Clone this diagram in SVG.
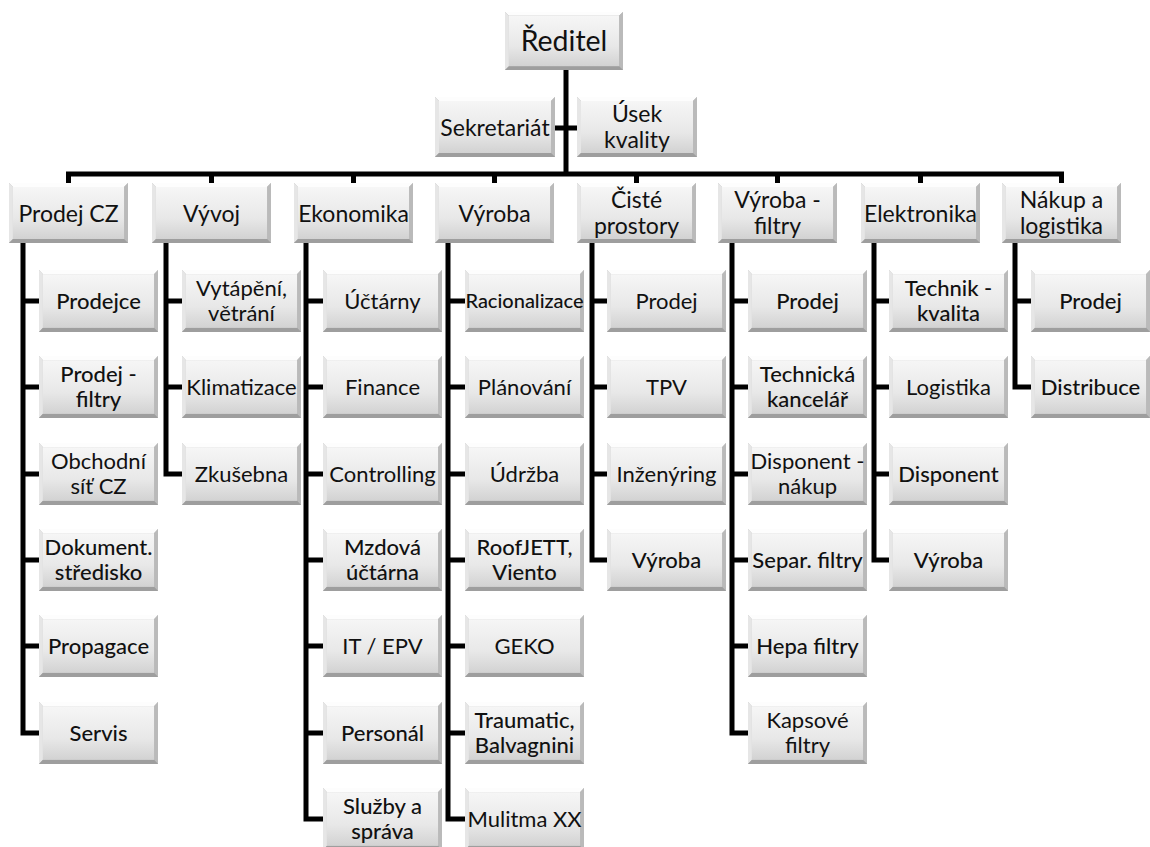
<svg xmlns="http://www.w3.org/2000/svg" xmlns:xlink="http://www.w3.org/1999/xlink" width="1150" height="847" viewBox="0 0 1150 847">
<style>
.t{font-family:Lato,"Liberation Sans",sans-serif;fill:#111;text-anchor:middle}
.top{font-size:23px}
.ch{font-size:22px}
.b{font-weight:500}
.cn{fill:none;stroke:#000;stroke-width:5;stroke-linejoin:miter}
</style>
<defs>
<linearGradient id="gb" x1="0" y1="0" x2="0" y2="1">
<stop offset="0" stop-color="#f6f6f6"/>
<stop offset="0.6" stop-color="#e8e8e8"/>
<stop offset="1" stop-color="#d2d2d2"/>
</linearGradient>
<symbol id="box" viewBox="0 0 120 60" preserveAspectRatio="none">
<rect width="120" height="60" fill="#b0b0b0"/>
<polygon points="0,0 120,0 116,4 4,4" fill="#fdfdfd"/>
<polygon points="0,0 4,4 4,56 0,60" fill="#e6e6e6"/>
<polygon points="120,0 120,60 116,56 116,4" fill="#bababa"/>
<polygon points="0,60 120,60 116,56 4,56" fill="#9e9e9e"/>
<rect x="4" y="4" width="112" height="52" fill="url(#gb)"/>
</symbol>
</defs>
<rect width="1150" height="847" fill="#fff"/>

<g id="connectors">
<path class="cn" d="M566,70 V174 M555,128 H577"/>
<path class="cn" d="M68.5,183 V174 H1061.5 V183 M211.5,174 V183 M353.5,174 V183 M494.5,174 V183 M636.5,174 V183 M777.5,174 V183 M920.5,174 V183"/>
<path class="cn" d="M23,243 V733 H39 M23,301 H39 M23,387 H39 M23,474 H39 M23,560 H39 M23,646 H39"/>
<path class="cn" d="M166,243 V474 H182 M166,301 H182 M166,387 H182"/>
<path class="cn" d="M306,243 V819 H323 M306,301 H323 M306,387 H323 M306,474 H323 M306,560 H323 M306,646 H323 M306,733 H323"/>
<path class="cn" d="M448,243 V819 H465 M448,301 H465 M448,387 H465 M448,474 H465 M448,560 H465 M448,646 H465 M448,733 H465"/>
<path class="cn" d="M592,243 V560 H607 M592,301 H607 M592,387 H607 M592,474 H607"/>
<path class="cn" d="M732,243 V733 H748 M732,301 H748 M732,387 H748 M732,474 H748 M732,560 H748 M732,646 H748"/>
<path class="cn" d="M874,243 V560 H889 M874,301 H889 M874,387 H889 M874,474 H889"/>
<path class="cn" d="M1015,243 V387 H1031 M1015,301 H1031"/>
</g>

<g id="n-reditel"><use xlink:href="#box" x="505" y="12" width="118" height="58"/><text class="t" x="564" y="50.5" font-size="28.5">Ředitel</text></g>
<g id="n-sekretariat"><use xlink:href="#box" x="435" y="97" width="120" height="60"/><text class="t top" x="495" y="135.5">Sekretariát</text></g>
<g id="n-usek-kvality"><use xlink:href="#box" x="577" y="97" width="120" height="60"/><text class="t top" x="637"><tspan x="637" y="122">Úsek</tspan><tspan x="637" y="147.5">kvality</tspan></text></g>

<g id="n-prodej-cz"><use xlink:href="#box" x="9" y="183" width="119" height="60"/><text class="t top" x="68.5" y="221.5">Prodej CZ</text></g>
<g id="n-vyvoj"><use xlink:href="#box" x="152" y="183" width="119" height="60"/><text class="t top" x="211.5" y="221.5">Vývoj</text></g>
<g id="n-ekonomika"><use xlink:href="#box" x="294" y="183" width="119" height="60"/><text class="t top" x="353.5" y="221.5">Ekonomika</text></g>
<g id="n-vyroba"><use xlink:href="#box" x="435" y="183" width="119" height="60"/><text class="t top" x="494.5" y="221.5">Výroba</text></g>
<g id="n-ciste-prostory"><use xlink:href="#box" x="577" y="183" width="119" height="60"/><text class="t top"><tspan x="636.5" y="208">Čisté</tspan><tspan x="636.5" y="233.5">prostory</tspan></text></g>
<g id="n-vyroba-filtry"><use xlink:href="#box" x="718" y="183" width="119" height="60"/><text class="t top"><tspan x="777.5" y="208">Výroba -</tspan><tspan x="777.5" y="233.5">filtry</tspan></text></g>
<g id="n-elektronika"><use xlink:href="#box" x="861" y="183" width="119" height="60"/><text class="t top" x="920.5" y="221.5">Elektronika</text></g>
<g id="n-nakup-logistika"><use xlink:href="#box" x="1002" y="183" width="119" height="60"/><text class="t top"><tspan x="1061.5" y="208">Nákup a</tspan><tspan x="1061.5" y="233.5">logistika</tspan></text></g>

<!-- Prodej CZ children -->
<g id="n-prodejce"><use xlink:href="#box" x="39" y="270" width="119" height="62"/><text class="t ch b" x="98.5" y="309">Prodejce</text></g>
<g id="n-prodej-filtry"><use xlink:href="#box" x="39" y="356" width="119" height="62"/><text class="t ch b"><tspan x="98.5" y="381.5">Prodej -</tspan><tspan x="98.5" y="406.5">filtry</tspan></text></g>
<g id="n-obchodni-sit"><use xlink:href="#box" x="39" y="443" width="119" height="62"/><text class="t ch"><tspan x="98.5" y="468.5">Obchodní</tspan><tspan x="98.5" y="493.5">síť CZ</tspan></text></g>
<g id="n-dokument"><use xlink:href="#box" x="39" y="529" width="119" height="62"/><text class="t ch b"><tspan x="98.5" y="554.5">Dokument.</tspan><tspan x="98.5" y="579.5">středisko</tspan></text></g>
<g id="n-propagace"><use xlink:href="#box" x="39" y="615" width="119" height="62"/><text class="t ch b" x="98.5" y="654">Propagace</text></g>
<g id="n-servis"><use xlink:href="#box" x="39" y="702" width="119" height="62"/><text class="t ch b" x="98.5" y="741">Servis</text></g>

<!-- Vývoj children -->
<g id="n-vytapeni"><use xlink:href="#box" x="182" y="270" width="119" height="62"/><text class="t ch"><tspan x="241.5" y="295.5">Vytápění,</tspan><tspan x="241.5" y="320.5">větrání</tspan></text></g>
<g id="n-klimatizace"><use xlink:href="#box" x="182" y="356" width="119" height="62"/><text class="t ch" x="241.5" y="395">Klimatizace</text></g>
<g id="n-zkusebna"><use xlink:href="#box" x="182" y="443" width="119" height="62"/><text class="t ch" x="241.5" y="482">Zkušebna</text></g>

<!-- Ekonomika children -->
<g id="n-uctarny"><use xlink:href="#box" x="323" y="270" width="119" height="62"/><text class="t ch" x="382.5" y="309">Účtárny</text></g>
<g id="n-finance"><use xlink:href="#box" x="323" y="356" width="119" height="62"/><text class="t ch" x="382.5" y="395">Finance</text></g>
<g id="n-controlling"><use xlink:href="#box" x="323" y="443" width="119" height="62"/><text class="t ch" x="382.5" y="482">Controlling</text></g>
<g id="n-mzdova"><use xlink:href="#box" x="323" y="529" width="119" height="62"/><text class="t ch b"><tspan x="382.5" y="554.5">Mzdová</tspan><tspan x="382.5" y="579.5">účtárna</tspan></text></g>
<g id="n-it-epv"><use xlink:href="#box" x="323" y="615" width="119" height="62"/><text class="t ch" x="382.5" y="654">IT / EPV</text></g>
<g id="n-personal"><use xlink:href="#box" x="323" y="702" width="119" height="62"/><text class="t ch b" x="382.5" y="741">Personál</text></g>
<g id="n-sluzby"><use xlink:href="#box" x="323" y="788" width="119" height="62"/><text class="t ch b"><tspan x="382.5" y="813.5">Služby a</tspan><tspan x="382.5" y="838.5">správa</tspan></text></g>

<!-- Výroba children -->
<g id="n-racionalizace"><use xlink:href="#box" x="465" y="270" width="119" height="62"/><text class="t b" font-size="20" x="524.5" y="308">Racionalizace</text></g>
<g id="n-planovani"><use xlink:href="#box" x="465" y="356" width="119" height="62"/><text class="t ch" x="524.5" y="395">Plánování</text></g>
<g id="n-udrzba"><use xlink:href="#box" x="465" y="443" width="119" height="62"/><text class="t ch" x="524.5" y="482">Údržba</text></g>
<g id="n-roofjett"><use xlink:href="#box" x="465" y="529" width="119" height="62"/><text class="t ch b"><tspan x="524.5" y="554.5">RoofJETT,</tspan><tspan x="524.5" y="579.5">Viento</tspan></text></g>
<g id="n-geko"><use xlink:href="#box" x="465" y="615" width="119" height="62"/><text class="t ch" x="524.5" y="654">GEKO</text></g>
<g id="n-traumatic"><use xlink:href="#box" x="465" y="702" width="119" height="62"/><text class="t ch b"><tspan x="524.5" y="727.5">Traumatic,</tspan><tspan x="524.5" y="752.5">Balvagnini</tspan></text></g>
<g id="n-mulitma"><use xlink:href="#box" x="465" y="788" width="119" height="62"/><text class="t ch" x="524.5" y="827">Mulitma XX</text></g>

<!-- Čisté prostory children -->
<g id="n-cp-prodej"><use xlink:href="#box" x="607" y="270" width="119" height="62"/><text class="t ch" x="666.5" y="309">Prodej</text></g>
<g id="n-cp-tpv"><use xlink:href="#box" x="607" y="356" width="119" height="62"/><text class="t ch" x="666.5" y="395">TPV</text></g>
<g id="n-cp-inzenyring"><use xlink:href="#box" x="607" y="443" width="119" height="62"/><text class="t ch" x="666.5" y="482">Inženýring</text></g>
<g id="n-cp-vyroba"><use xlink:href="#box" x="607" y="529" width="119" height="62"/><text class="t ch b" x="666.5" y="568">Výroba</text></g>

<!-- Výroba - filtry children -->
<g id="n-vf-prodej"><use xlink:href="#box" x="748" y="270" width="119" height="62"/><text class="t ch b" x="807.5" y="309">Prodej</text></g>
<g id="n-vf-technicka"><use xlink:href="#box" x="748" y="356" width="119" height="62"/><text class="t ch b"><tspan x="807.5" y="381.5">Technická</tspan><tspan x="807.5" y="406.5">kancelář</tspan></text></g>
<g id="n-vf-disponent"><use xlink:href="#box" x="748" y="443" width="119" height="62"/><text class="t ch"><tspan x="807.5" y="468.5">Disponent -</tspan><tspan x="807.5" y="493.5">nákup</tspan></text></g>
<g id="n-vf-separ"><use xlink:href="#box" x="748" y="529" width="119" height="62"/><text class="t ch b" x="807.5" y="568">Separ. filtry</text></g>
<g id="n-vf-hepa"><use xlink:href="#box" x="748" y="615" width="119" height="62"/><text class="t ch b" x="807.5" y="654">Hepa filtry</text></g>
<g id="n-vf-kapsove"><use xlink:href="#box" x="748" y="702" width="119" height="62"/><text class="t ch"><tspan x="807.5" y="727.5">Kapsové</tspan><tspan x="807.5" y="752.5">filtry</tspan></text></g>

<!-- Elektronika children -->
<g id="n-el-technik"><use xlink:href="#box" x="889" y="270" width="119" height="62"/><text class="t ch b"><tspan x="948.5" y="295.5">Technik -</tspan><tspan x="948.5" y="320.5">kvalita</tspan></text></g>
<g id="n-el-logistika"><use xlink:href="#box" x="889" y="356" width="119" height="62"/><text class="t ch" x="948.5" y="395">Logistika</text></g>
<g id="n-el-disponent"><use xlink:href="#box" x="889" y="443" width="119" height="62"/><text class="t ch b" x="948.5" y="482">Disponent</text></g>
<g id="n-el-vyroba"><use xlink:href="#box" x="889" y="529" width="119" height="62"/><text class="t ch b" x="948.5" y="568">Výroba</text></g>

<!-- Nákup a logistika children -->
<g id="n-nl-prodej"><use xlink:href="#box" x="1031" y="270" width="119" height="62"/><text class="t ch b" x="1090.5" y="309">Prodej</text></g>
<g id="n-nl-distribuce"><use xlink:href="#box" x="1031" y="356" width="119" height="62"/><text class="t ch b" x="1090.5" y="395">Distribuce</text></g>
</svg>
